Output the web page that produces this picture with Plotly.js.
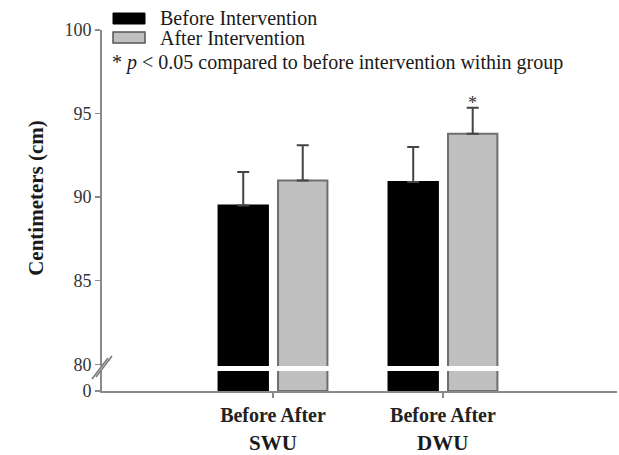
<!DOCTYPE html>
<html>
<head>
<meta charset="utf-8">
<script src="https://cdn.plot.ly/plotly-3.0.1.min.js"></script>
<style>html,body{margin:0;padding:0;background:#fff;}</style>
</head>
<body>
<div id="chart" style="width:619px;height:455px;"></div>
<script>
// ---- data ----
const groups = ['SWU', 'DWU'];
const barLabels = ['Before', 'After'];
const seriesNames = ['Before Intervention', 'After Intervention'];
const beforeVals = [89.5, 90.9];
const afterVals = [91.0, 93.8];
const beforeErr = [2.0, 2.1];
const afterErr = [2.1, 1.55];
const afterSig = [false, true];
const yTicksTop = [80, 85, 90, 95, 100];
const yTicksBottom = [0];
const yTitle = 'Centimeters (cm)';
const sigNote = '* <i>p</i> < 0.05 compared to before intervention within group';

// ---- style ----
const FONT = 'Liberation Serif, Times New Roman, serif';
const AXC = '#8a8a8a';
const GRAY = '#c0c0c0';
const GRAYLINE = '#6e6e6e';
const ERRC = '#444';
const bargap = 0.30;

const zeros = groups.map(() => 0);

function barTrace(vals, color, lineColor, yaxis, err) {
  const t = {
    type: 'bar', x: groups, y: vals, xaxis: 'x', yaxis: yaxis,
    marker: {color: color, line: {color: lineColor, width: 2}},
    showlegend: false, hoverinfo: 'skip'
  };
  if (err) {
    t.error_y = {type: 'data', symmetric: false, array: err, arrayminus: zeros,
                 color: ERRC, thickness: 2, width: 6};
  }
  return t;
}

const data = [
  barTrace(beforeVals, '#000', '#000', 'y', null),
  barTrace(afterVals, GRAY, GRAYLINE, 'y', null),
  barTrace(beforeVals, '#000', '#000', 'y2', beforeErr),
  barTrace(afterVals, GRAY, GRAYLINE, 'y2', afterErr)
];

const annotations = [];
// group labels
groups.forEach((g) => {
  annotations.push({
    x: g, xref: 'x', y: 0, yref: 'paper', yanchor: 'middle', yshift: -52,
    text: '<b>' + g + '</b>', showarrow: false, borderpad: 0,
    font: {family: FONT, size: 21, color: '#1a1a1a'}
  });
});
// significance markers
afterSig.forEach((s, i) => {
  if (!s) return;
  annotations.push({
    x: i + (1 - bargap) / 4, xref: 'x', y: afterVals[i] + afterErr[i], yref: 'y2',
    yanchor: 'bottom', yshift: -7, text: '*', showarrow: false,
    font: {family: FONT, size: 18, color: '#333'}
  });
});
// legend texts
annotations.push({
  xref: 'paper', x: 0, xshift: 56, xanchor: 'left', yref: 'paper', y: 1, yshift: 12, yanchor: 'middle',
  text: seriesNames[0], showarrow: false, font: {family: FONT, size: 20, color: '#1a1a1a'}
});
annotations.push({
  xref: 'paper', x: 0, xshift: 56, xanchor: 'left', yref: 'paper', y: 1, yshift: -8, yanchor: 'middle',
  text: seriesNames[1], showarrow: false, font: {family: FONT, size: 20, color: '#1a1a1a'}
});
annotations.push({
  xref: 'paper', x: 0, xshift: 8, xanchor: 'left', yref: 'paper', y: 1, yshift: -32, yanchor: 'middle',
  text: sigNote, showarrow: false, font: {family: FONT, size: 20, color: '#1a1a1a'}
});

const shapes = [
  // legend swatches
  {type: 'rect', xref: 'paper', xsizemode: 'pixel', xanchor: 0, x0: 11, x1: 43,
   yref: 'paper', ysizemode: 'pixel', yanchor: 1, y0: 6, y1: 17,
   fillcolor: '#000', line: {color: '#000', width: 1}},
  {type: 'rect', xref: 'paper', xsizemode: 'pixel', xanchor: 0, x0: 11, x1: 43,
   yref: 'paper', ysizemode: 'pixel', yanchor: 1, y0: -13, y1: -2,
   fillcolor: GRAY, line: {color: '#555', width: 1.5}},
  // axis break marks
  {type: 'line', xref: 'paper', xsizemode: 'pixel', xanchor: 0, x0: -10, x1: 6,
   yref: 'paper', ysizemode: 'pixel', yanchor: 0, y0: 12, y1: 33,
   line: {color: '#777', width: 1.5}},
  {type: 'line', xref: 'paper', xsizemode: 'pixel', xanchor: 0, x0: -6, x1: 10,
   yref: 'paper', ysizemode: 'pixel', yanchor: 0, y0: 14, y1: 35,
   line: {color: '#777', width: 1.5}}
];

const tickFont = {family: FONT, size: 18, color: '#333'};

const layout = {
  width: 619, height: 455,
  margin: {l: 102, r: 2, t: 30, b: 64},
  paper_bgcolor: '#fff', plot_bgcolor: '#fff',
  barmode: 'group', bargap: bargap, bargroupgap: 0.17,
  showlegend: false,
  font: {family: FONT, color: '#1a1a1a'},
  xaxis: {
    type: 'category', categoryorder: 'array', categoryarray: groups,
    range: [-1.006, 2.024], anchor: 'y',
    showline: true, linecolor: AXC, linewidth: 2,
    ticks: 'outside', ticklen: 5, tickcolor: AXC, tickwidth: 1.5,
    tickvals: groups, ticktext: groups.map(() => '<b>' + barLabels.join(' ') + '</b>'),
    tickfont: {family: FONT, size: 20, color: '#222'},
    showgrid: false, zeroline: false, fixedrange: true
  },
  yaxis: {
    domain: [0, 0.0554], range: [0, 10], anchor: 'x',
    tickvals: yTicksBottom, ticktext: yTicksBottom.map(String),
    showline: true, linecolor: AXC, linewidth: 2,
    ticks: 'outside', ticklen: 5, tickcolor: AXC, tickwidth: 1.5,
    tickfont: tickFont, showgrid: false, zeroline: false, fixedrange: true
  },
  yaxis2: {
    domain: [0.0693, 1], range: [79.9, 100], anchor: 'x',
    tickvals: yTicksTop, ticktext: yTicksTop.map(String),
    showline: true, linecolor: AXC, linewidth: 2,
    ticks: 'outside', ticklen: 5, tickcolor: AXC, tickwidth: 1.5,
    tickfont: tickFont, showgrid: false, zeroline: false, fixedrange: true,
    title: {text: '<b>' + yTitle + '</b>', font: {family: FONT, size: 21, color: '#1a1a1a'}, standoff: 15}
  },
  annotations: annotations,
  shapes: shapes
};

Plotly.newPlot('chart', data, layout, {staticPlot: true, displayModeBar: false});
</script>
</body>
</html>
